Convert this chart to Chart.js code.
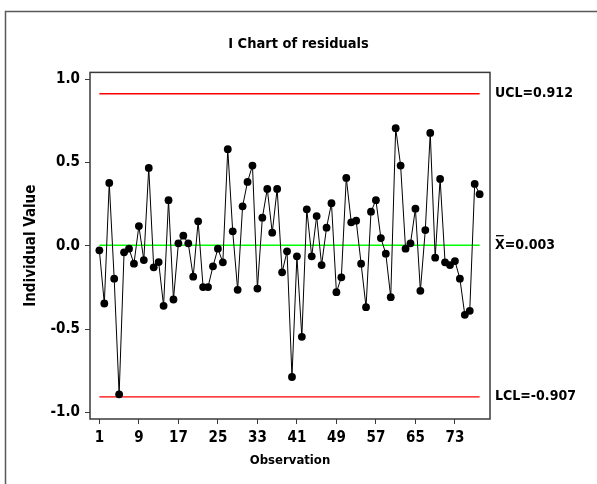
<!DOCTYPE html>
<html>
<head>
<meta charset="utf-8">
<title>I Chart of residuals</title>
<script src="https://cdn.jsdelivr.net/npm/chart.js@4/dist/chart.umd.min.js"></script>
<style>
  html, body { margin: 0; padding: 0; background: #fff; overflow: hidden; }
  #wrap { width: 597px; height: 484px; position: relative; }
</style>
</head>
<body>
<div id="wrap"><canvas id="c" width="597" height="484"></canvas></div>
<script>
// Individual values (residuals) by observation number
const residuals = [
  -0.028, -0.347, 0.377, -0.198, -0.892, -0.040, -0.018, -0.108, 0.118, -0.086,
  0.467, -0.130, -0.098, -0.361, 0.273, -0.323, 0.014, 0.060, 0.014, -0.186,
  0.146, -0.248, -0.248, -0.124, -0.018, -0.100, 0.579, 0.086, -0.265, 0.236,
  0.383, 0.481, -0.257, 0.168, 0.341, 0.078, 0.341, -0.160, -0.034, -0.788,
  -0.064, -0.547, 0.218, -0.064, 0.178, -0.116, 0.108, 0.255, -0.279, -0.190,
  0.407, 0.140, 0.150, -0.108, -0.369, 0.204, 0.273, 0.046, -0.048, -0.309,
  0.705, 0.481, -0.018, 0.014, 0.222, -0.271, 0.094, 0.677, -0.072, 0.401,
  -0.100, -0.116, -0.092, -0.198, -0.415, -0.391, 0.371, 0.309
];
const observations = residuals.map((_, i) => i + 1);

// Control limits and centre line
const UCL = 0.912;
const MEAN = 0.003;
const LCL = -0.907;

// Axis tick labels
const xTicks = [1, 9, 17, 25, 33, 41, 49, 57, 65, 73];
const yTicks = [-1.0, -0.5, 0.0, 0.5, 1.0];

const FONT = "'DejaVu Sans Condensed', 'DejaVu Sans', sans-serif";
const first = observations[0];
const last = observations[observations.length - 1];

const limitLine = (v, color, width) => ({
  type: 'line',
  data: [{ x: first, y: v }, { x: last, y: v }],
  borderColor: color,
  borderWidth: width,
  pointRadius: 0,
  order: 2
});

const chartFrame = {
  id: 'chartFrame',
  beforeDraw(chart) {
    const ctx = chart.ctx;
    ctx.save();
    ctx.fillStyle = '#ffffff';
    ctx.fillRect(0, 0, chart.width, chart.height);
    ctx.restore();
  },
  afterDraw(chart) {
    const { ctx, chartArea: a, scales } = chart;
    ctx.save();
    // outer frame (open on the right and bottom)
    ctx.strokeStyle = '#5a5a5a';
    ctx.lineWidth = 1.5;
    ctx.beginPath();
    ctx.moveTo(5.5, chart.height + 2);
    ctx.lineTo(5.5, 11.5);
    ctx.lineTo(chart.width + 2, 11.5);
    ctx.stroke();
    // plot box
    ctx.strokeStyle = '#3a3a3a';
    ctx.lineWidth = 1.5;
    ctx.strokeRect(a.left, a.top, a.right - a.left, a.bottom - a.top);
    // limit labels
    ctx.fillStyle = '#000';
    ctx.font = 'bold 14px ' + FONT;
    ctx.textAlign = 'left';
    ctx.textBaseline = 'middle';
    const tx = a.right + 5;
    ctx.fillText('UCL=' + UCL.toFixed(3), tx, scales.y.getPixelForValue(UCL));
    const my = scales.y.getPixelForValue(MEAN);
    ctx.fillText('X=' + MEAN.toFixed(3), tx, my);
    const xw = ctx.measureText('X').width;
    ctx.strokeStyle = '#000';
    ctx.lineWidth = 1.3;
    ctx.beginPath();
    ctx.moveTo(tx + 1, my - 9.5);
    ctx.lineTo(tx + xw - 1, my - 9.5);
    ctx.stroke();
    ctx.fillText('LCL=' + LCL.toFixed(3), tx, scales.y.getPixelForValue(LCL));
    ctx.restore();
  }
};

new Chart(document.getElementById('c'), {
  type: 'line',
  data: {
    datasets: [
      {
        data: observations.map((o, i) => ({ x: o, y: residuals[i] })),
        borderColor: '#000',
        borderWidth: 1,
        pointRadius: 3.9,
        pointBackgroundColor: '#000',
        pointBorderWidth: 0,
        tension: 0,
        order: 0
      },
      limitLine(UCL, '#ff0000', 1.3),
      limitLine(MEAN, '#00ff00', 1.6),
      limitLine(LCL, '#ff0000', 1.3)
    ]
  },
  options: {
    responsive: false,
    animation: false,
    events: [],
    layout: { padding: 0 },
    plugins: {
      legend: { display: false },
      tooltip: { enabled: false },
      title: {
        display: true,
        text: 'I Chart of residuals',
        color: '#000',
        font: { family: FONT, size: 14.5, weight: 'bold' },
        padding: { top: 36, bottom: 19 }
      }
    },
    scales: {
      x: {
        type: 'linear',
        min: -0.9,
        max: 80.1,
        afterBuildTicks: s => { s.ticks = xTicks.map(v => ({ value: v })); },
        afterFit: s => { s.height = 65; },
        ticks: {
          color: '#000',
          autoSkip: false,
          maxRotation: 0,
          padding: 5,
          font: { family: FONT, size: 15, weight: 'bold' },
          callback: v => String(v)
        },
        grid: { drawOnChartArea: false, drawTicks: true, tickLength: 5, color: '#3a3a3a' },
        border: { display: false },
        title: {
          display: true,
          text: 'Observation',
          color: '#000',
          font: { family: FONT, size: 13, weight: 'bold' },
          padding: { top: 0, bottom: 16 }
        }
      },
      y: {
        min: -1.04,
        max: 1.04,
        afterBuildTicks: s => { s.ticks = yTicks.map(v => ({ value: v })); },
        afterFit: s => { s.width = 90; },
        ticks: {
          color: '#000',
          padding: 5,
          font: { family: FONT, size: 15, weight: 'bold' },
          callback: v => v.toFixed(1)
        },
        grid: { drawOnChartArea: false, drawTicks: true, tickLength: 5, color: '#3a3a3a' },
        border: { display: false },
        title: {
          display: true,
          text: 'Individual Value',
          color: '#000',
          font: { family: FONT, size: 15, weight: 'bold' },
          padding: { top: 22, bottom: 0 }
        }
      },
      // blank right-hand margin that holds the limit labels
      yRight: {
        position: 'right',
        min: -1.04,
        max: 1.04,
        afterFit: s => { s.width = 107; },
        ticks: { display: false },
        grid: { display: false },
        border: { display: false }
      }
    }
  },
  plugins: [chartFrame]
});
</script>
</body>
</html>
